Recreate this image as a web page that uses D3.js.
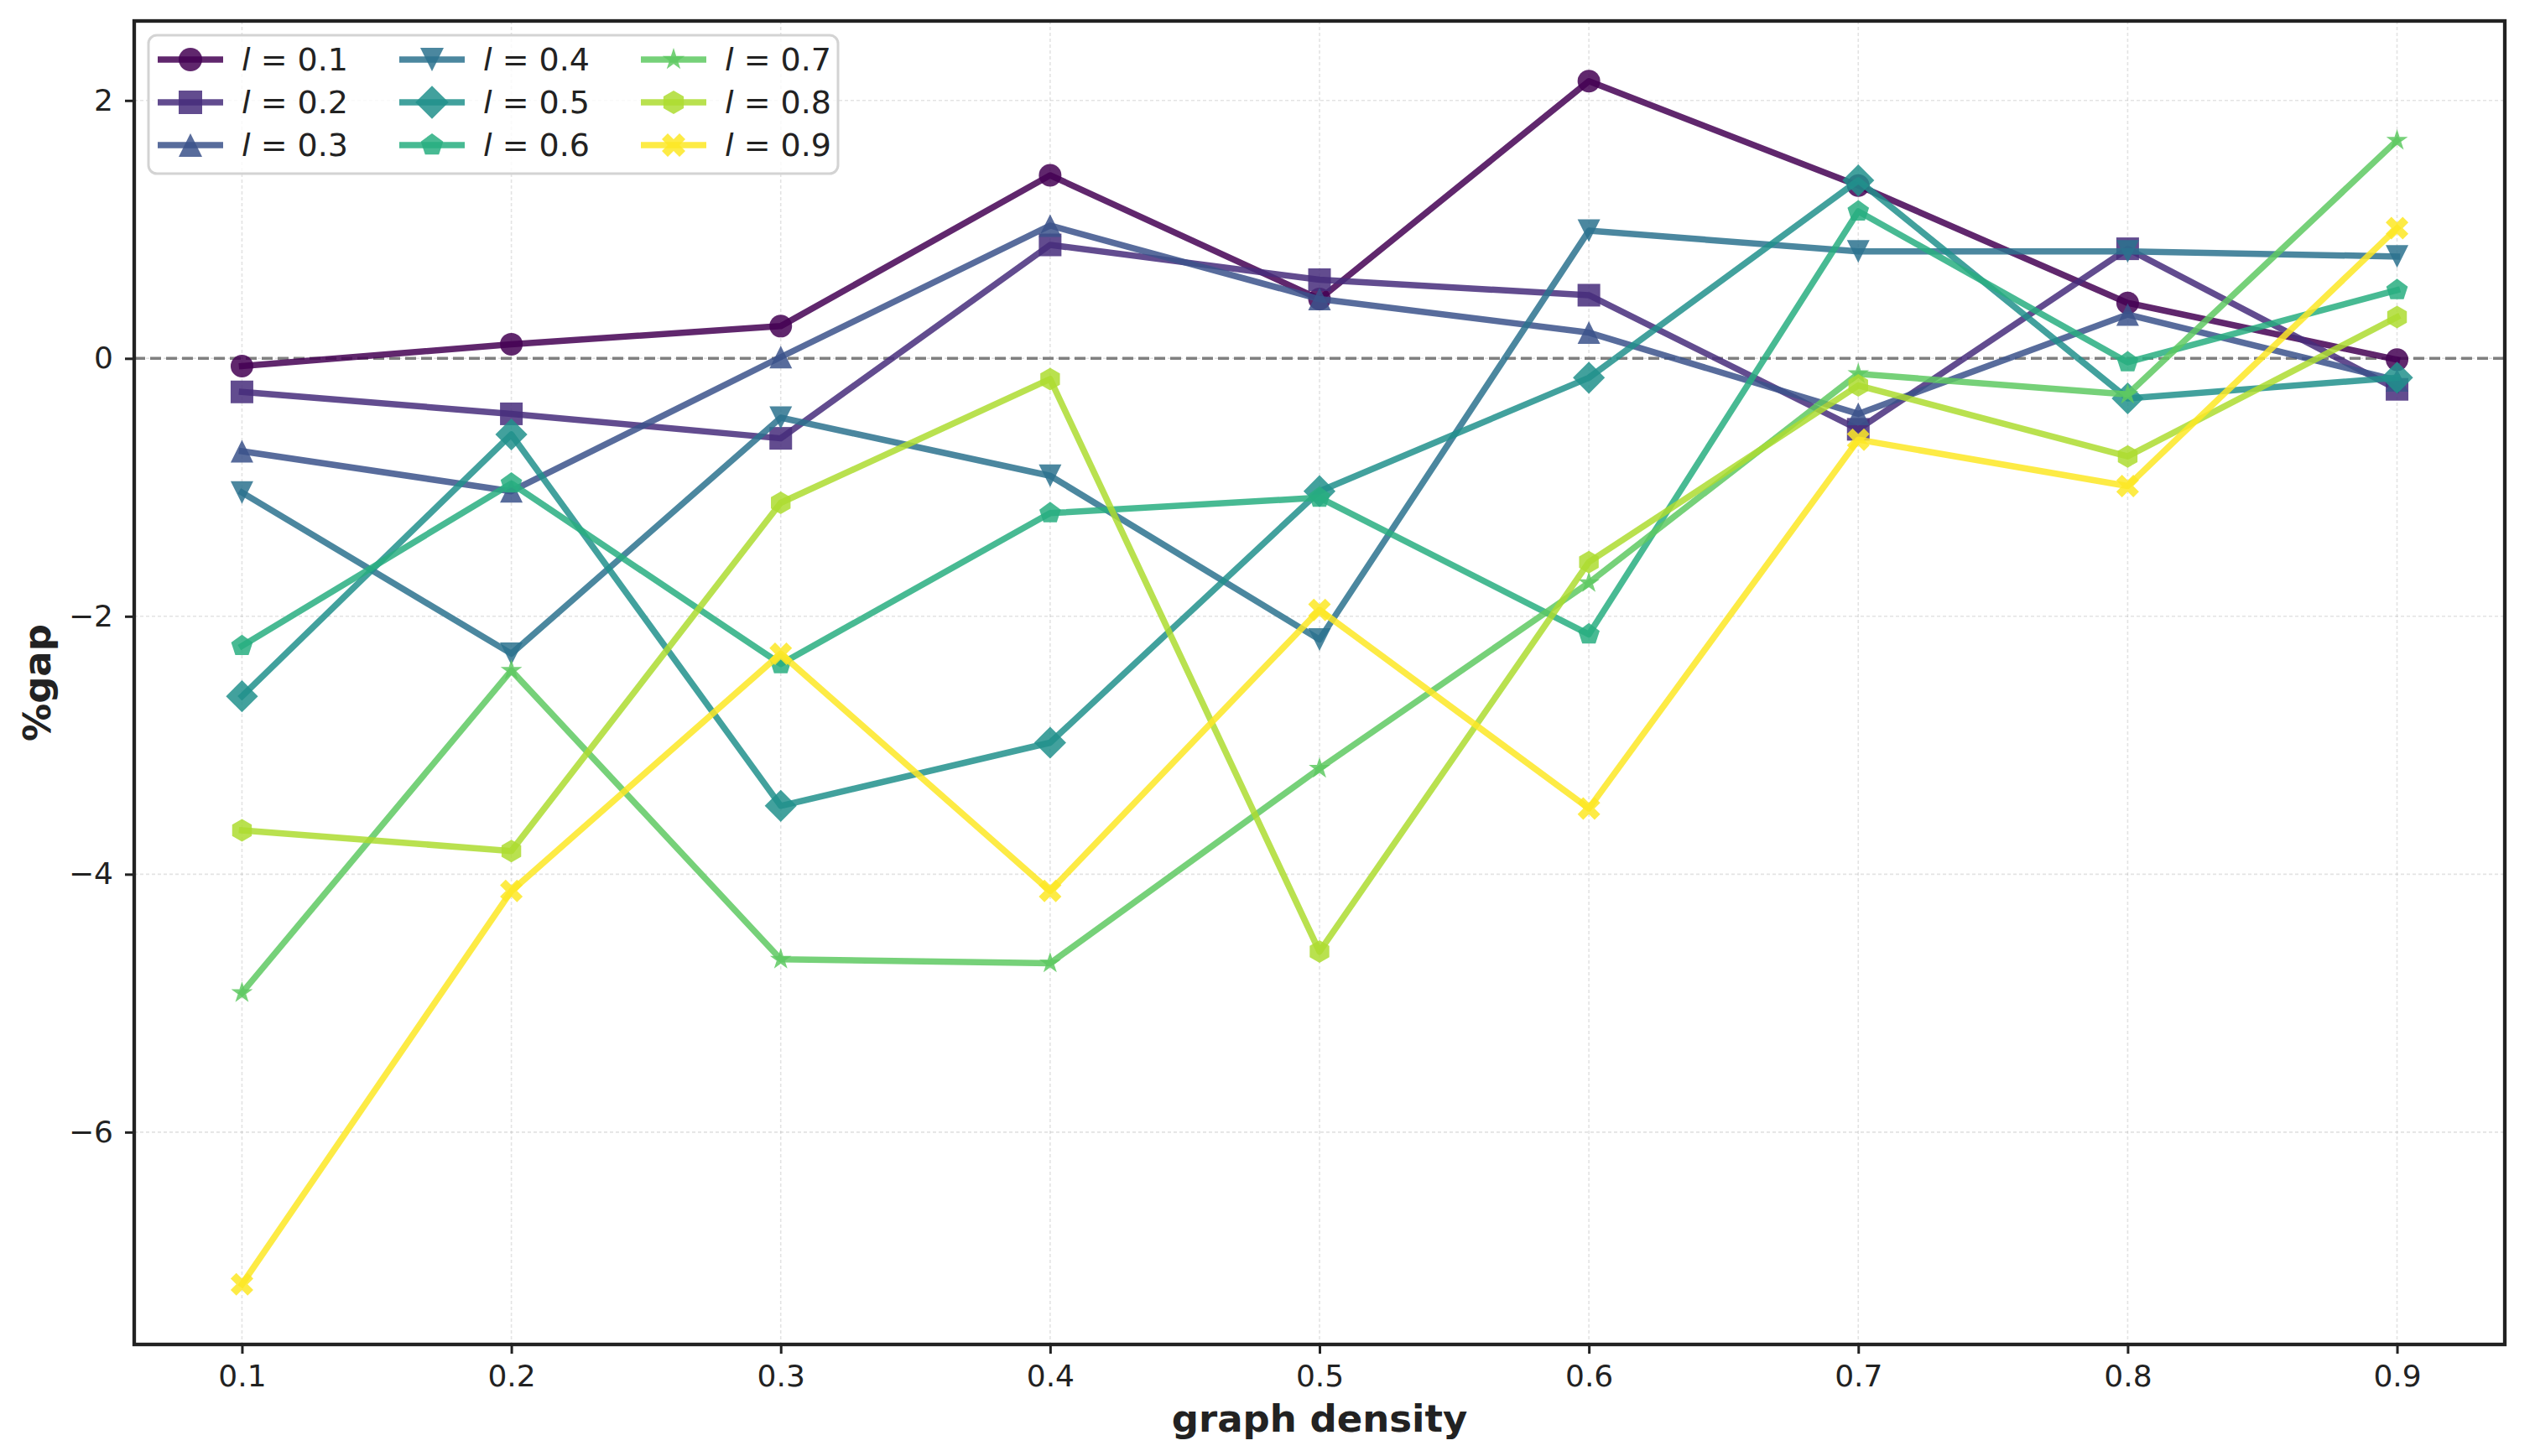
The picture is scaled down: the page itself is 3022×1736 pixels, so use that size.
<!DOCTYPE html>
<html>
<head>
<meta charset="utf-8">
<script src="https://cdn.jsdelivr.net/npm/d3@7"></script>
<style>
  body { margin: 0; background: #fff; }
  text { font-family: "DejaVu Sans", sans-serif; fill: #222; }
</style>
</head>
<body>
<svg id="chart" width="3022" height="1736"></svg>
<script>
// graph density on the x axis
const densities = [0.1, 0.2, 0.3, 0.4, 0.5, 0.6, 0.7, 0.8, 0.9];
const lValues = [0.1, 0.2, 0.3, 0.4, 0.5, 0.6, 0.7, 0.8, 0.9];

// %gap for each l
const gapL01 = [-0.06, 0.11, 0.25, 1.42, 0.46, 2.15, 1.34, 0.43, -0.01];
const gapL02 = [-0.26, -0.43, -0.62, 0.88, 0.61, 0.49, -0.55, 0.85, -0.24];
const gapL03 = [-0.72, -1.03, 0.01, 1.03, 0.46, 0.20, -0.43, 0.34, -0.17];
const gapL04 = [-1.04, -2.29, -0.46, -0.91, -2.18, 0.99, 0.83, 0.83, 0.79];
const gapL05 = [-2.62, -0.59, -3.47, -2.98, -1.03, -0.15, 1.38, -0.31, -0.15];
const gapL06 = [-2.23, -0.97, -2.37, -1.20, -1.08, -2.14, 1.14, -0.03, 0.53];
const gapL07 = [-4.92, -2.42, -4.66, -4.69, -3.18, -1.74, -0.12, -0.28, 1.69];
const gapL08 = [-3.66, -3.82, -1.12, -0.16, -4.60, -1.58, -0.21, -0.76, 0.32];
const gapL09 = [-7.18, -4.13, -2.29, -4.13, -1.95, -3.49, -0.63, -0.99, 1.01];

const xTicks = [0.1, 0.2, 0.3, 0.4, 0.5, 0.6, 0.7, 0.8, 0.9];
const yTicks = [-6, -4, -2, 0, 2];
const markerNames = ["circle", "square", "triangleUp", "triangleDown", "diamond", "pentagon", "star", "hexagon", "xFilled"];

const allGaps = [gapL01, gapL02, gapL03, gapL04, gapL05, gapL06, gapL07, gapL08, gapL09];

// matplotlib-like marker outlines, s = marker size in px
function markerPath(name, s) {
    const h = s / 2;
    const poly = pts => "M" + pts.map(p => p[0].toFixed(2) + "," + p[1].toFixed(2)).join("L") + "Z";
    const regular = (n, r, rot) => d3.range(n).map(i => {
        const a = rot + i * 2 * Math.PI / n;
        return [r * Math.cos(a), r * Math.sin(a)];
    });
    switch (name) {
        case "circle":
            return `M${h},0A${h},${h} 0 1,1 ${-h},0A${h},${h} 0 1,1 ${h},0Z`;
        case "square":
            return poly([[-h, -h], [h, -h], [h, h], [-h, h]]);
        case "triangleUp":
            return poly([[0, -h], [h, h], [-h, h]]);
        case "triangleDown":
            return poly([[0, h], [h, -h], [-h, -h]]);
        case "diamond": {
            const d = h * Math.SQRT2;
            return poly([[0, -d], [d, 0], [0, d], [-d, 0]]);
        }
        case "pentagon":
            return poly(regular(5, h, -Math.PI / 2));
        case "hexagon":
            return poly(regular(6, h, -Math.PI / 2));
        case "star": {
            const pts = d3.range(10).map(i => {
                const r = i % 2 === 0 ? h : h * 0.381966;
                const a = -Math.PI / 2 + i * Math.PI / 5;
                return [r * Math.cos(a), r * Math.sin(a)];
            });
            return poly(pts);
        }
        case "xFilled": {
            const base = [[-1, -2], [0, -1], [1, -2], [2, -1], [1, 0], [2, 1],
                          [1, 2], [0, 1], [-1, 2], [-2, 1], [-1, 0], [-2, -1]];
            return poly(base.map(p => [p[0] * s / 4, p[1] * s / 4]));
        }
    }
}

function line_plot(svgSelector, {
    margin = { top: 25, right: 36, bottom: 133, left: 160 },
    lineWidth = 7.5,
    markerSize = 27,
    alpha = 0.85
} = {}) {
    const svg = d3.select(svgSelector);
    svg.selectAll("*").remove();

    const W = +svg.attr("width"), H = +svg.attr("height");
    const width = W - margin.left - margin.right;
    const height = H - margin.top - margin.bottom;

    const chart = svg.append("g")
        .attr("transform", `translate(${margin.left},${margin.top})`);

    // Scales (5% padding like matplotlib autoscale)
    const xExt = d3.extent(densities);
    const xPad = (xExt[1] - xExt[0]) * 0.05;
    const xScale = d3.scaleLinear()
        .domain([xExt[0] - xPad, xExt[1] + xPad])
        .range([0, width]);

    const yExt = d3.extent(allGaps.flat());
    const yPad = (yExt[1] - yExt[0]) * 0.05;
    const yScale = d3.scaleLinear()
        .domain([yExt[0] - yPad, yExt[1] + yPad])
        .range([height, 0]);

    const color = i => d3.interpolateViridis(i / (lValues.length - 1));

    // Grid
    const grid = chart.append("g").attr("class", "grid");
    grid.selectAll(".vgrid")
        .data(xTicks)
        .enter().append("line")
        .attr("x1", d => xScale(d)).attr("x2", d => xScale(d))
        .attr("y1", 0).attr("y2", height)
        .attr("stroke", "#b0b0b0")
        .attr("stroke-opacity", 0.35)
        .attr("stroke-width", 1.6)
        .attr("stroke-dasharray", "4,3");
    grid.selectAll(".hgrid")
        .data(yTicks)
        .enter().append("line")
        .attr("x1", 0).attr("x2", width)
        .attr("y1", d => yScale(d)).attr("y2", d => yScale(d))
        .attr("stroke", "#b0b0b0")
        .attr("stroke-opacity", 0.35)
        .attr("stroke-width", 1.6)
        .attr("stroke-dasharray", "4,3");

    // zero reference line
    chart.append("line")
        .attr("x1", 0).attr("x2", width)
        .attr("y1", yScale(0)).attr("y2", yScale(0))
        .attr("stroke", "#808080")
        .attr("stroke-width", 3.5)
        .attr("stroke-dasharray", "13,6");

    // Lines + markers
    const line = d3.line()
        .x((d, i) => xScale(densities[i]))
        .y(d => yScale(d));

    allGaps.forEach((series, k) => {
        const g = chart.append("g").attr("class", `series-${k}`);
        g.append("path")
            .datum(series)
            .attr("fill", "none")
            .attr("stroke", color(k))
            .attr("stroke-opacity", alpha)
            .attr("stroke-width", lineWidth)
            .attr("stroke-linejoin", "round")
            .attr("stroke-linecap", "square")
            .attr("d", line);
        g.selectAll(".marker")
            .data(series)
            .enter().append("path")
            .attr("class", "marker")
            .attr("transform", (d, i) => `translate(${xScale(densities[i])},${yScale(d)})`)
            .attr("d", markerPath(markerNames[k], markerSize))
            .attr("fill", color(k))
            .attr("fill-opacity", alpha);
    });

    // Axes
    const xAxis = d3.axisBottom(xScale)
        .tickValues(xTicks)
        .tickSize(11)
        .tickPadding(13)
        .tickFormat(d3.format(".1f"));
    const yAxis = d3.axisLeft(yScale)
        .tickValues(yTicks)
        .tickSize(11)
        .tickPadding(14)
        .tickFormat(d => d < 0 ? "\u2212" + Math.abs(d) : d);

    const gx = chart.append("g")
        .attr("class", "x-axis")
        .attr("transform", `translate(0,${height})`)
        .call(xAxis);
    const gy = chart.append("g")
        .attr("class", "y-axis")
        .call(yAxis);
    [gx, gy].forEach(a => {
        a.select(".domain").remove();
        a.selectAll(".tick line").attr("stroke", "#222").attr("stroke-width", 3);
        a.selectAll(".tick text")
            .style("font-family", "DejaVu Sans")
            .style("font-size", "36px")
            .attr("fill", "#222");
    });

    // Frame
    chart.append("rect")
        .attr("x", 0).attr("y", 0)
        .attr("width", width).attr("height", height)
        .attr("fill", "none")
        .attr("stroke", "#222")
        .attr("stroke-width", 4.3);

    // Axis labels
    chart.append("text")
        .attr("x", width / 2)
        .attr("y", height + 104)
        .style("text-anchor", "middle")
        .style("font-size", "45px")
        .style("font-weight", "bold")
        .text("graph density");

    svg.append("text")
        .attr("transform", `translate(60,${margin.top + height / 2}) rotate(-90)`)
        .style("text-anchor", "middle")
        .style("font-size", "45px")
        .style("font-weight", "bold")
        .text("%gap");

    // Legend (3 columns, column-major)
    const legend = svg.append("g").attr("class", "legend");
    legend.append("rect")
        .attr("x", 177).attr("y", 42)
        .attr("width", 822).attr("height", 165)
        .attr("rx", 10).attr("ry", 10)
        .attr("fill", "#fff")
        .attr("fill-opacity", 0.8)
        .attr("stroke", "#d3d3d3")
        .attr("stroke-width", 3);

    const colX = [188, 476, 764];
    const rowY = [71, 122, 173];
    lValues.forEach((l, k) => {
        const cx = colX[Math.floor(k / 3)];
        const cy = rowY[k % 3];
        const item = legend.append("g");
        item.append("line")
            .attr("x1", cx).attr("x2", cx + 78)
            .attr("y1", cy).attr("y2", cy)
            .attr("stroke", color(k))
            .attr("stroke-opacity", alpha)
            .attr("stroke-width", lineWidth);
        item.append("path")
            .attr("transform", `translate(${cx + 39},${cy})`)
            .attr("d", markerPath(markerNames[k], 28))
            .attr("fill", color(k))
            .attr("fill-opacity", alpha);
        const t = item.append("text")
            .attr("x", cx + 100)
            .attr("y", cy + 13)
            .style("font-size", "38px");
        t.append("tspan").style("font-style", "italic").text("l");
        t.append("tspan").text(` = ${l.toFixed(1)}`);
    });
}

line_plot("#chart");
</script>
</body>
</html>
